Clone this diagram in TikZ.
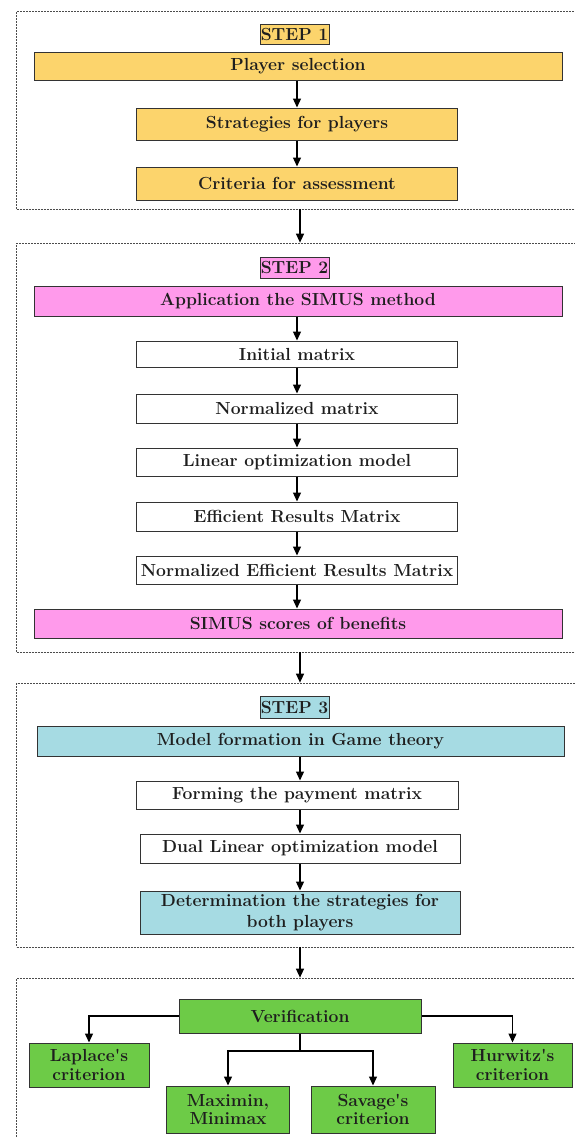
\documentclass[tikz,border=0pt]{standalone}
\usetikzlibrary{arrows.meta,calc}
\definecolor{cyel}{HTML}{FCD46C}
\definecolor{cpink}{HTML}{FF9AEB}
\definecolor{cblue}{HTML}{A6DBE3}
\definecolor{cgreen}{HTML}{6DCB47}
\definecolor{cline}{HTML}{333333}
\definecolor{ctext}{HTML}{1E1E1E}
\begin{document}
\begin{tikzpicture}[x=1pt,y=-1pt,
  box/.style={draw=cline,line width=1pt,rectangle,inner sep=0pt,align=center,
    font=\fontsize{17.5}{20}\selectfont\bfseries,text=ctext},
  two/.style={font=\fontsize{17.5}{18.5}\selectfont\bfseries},
  arr/.style={-{Triangle[length=9pt,width=8pt]},line width=1.3pt,black},
  ln/.style={line width=1.3pt,black},
  stepbound/.style={draw=black!70,line width=0.7pt,dash pattern=on 2pt off 1pt,rectangle,inner sep=0pt}]
\useasboundingbox (0,0) rectangle (574,1138);
% dashed group boxes
\node[stepbound,minimum width=583.5pt,minimum height=197.3pt] (b1) at (308.25,110.35) {};
\node[stepbound,minimum width=583.5pt,minimum height=409pt] (b2) at (308.25,447.5) {};
\node[stepbound,minimum width=583.5pt,minimum height=264pt] (b3) at (308.25,815) {};
\node[stepbound,minimum width=583.5pt,minimum height=200pt] (b4) at (308.25,1078) {};
% step 1
\node[box,fill=cyel,minimum width=69pt,minimum height=20pt] (s1) at (294.5,34) {STEP 1};
\node[box,fill=cyel,minimum width=528pt,minimum height=28pt] (ps) at (298,66) {Player selection};
\node[box,fill=cyel,minimum width=321pt,minimum height=32pt] (st) at (297,124) {Strategies for players};
\node[box,fill=cyel,minimum width=321pt,minimum height=33pt] (cr) at (297,183.5) {Criteria for assessment};
% step 2
\node[box,fill=cpink,minimum width=69pt,minimum height=21pt] (s2) at (294.5,267.5) {STEP 2};
\node[box,fill=cpink,minimum width=528pt,minimum height=30pt] (ap) at (298,301) {Application the SIMUS method};
\node[box,fill=white,minimum width=321pt,minimum height=26pt] (im) at (297,354) {Initial matrix};
\node[box,fill=white,minimum width=321pt,minimum height=29pt] (nm) at (297,408.5) {Normalized matrix};
\node[box,fill=white,minimum width=321pt,minimum height=28pt] (lo) at (297,462) {Linear optimization model};
\node[box,fill=white,minimum width=321pt,minimum height=29pt] (er) at (297,516.5) {Efficient Results Matrix};
\node[box,fill=white,minimum width=321pt,minimum height=28pt] (ne) at (297,570) {Normalized Efficient Results Matrix};
\node[box,fill=cpink,minimum width=528pt,minimum height=29pt] (sc) at (298,623.5) {SIMUS scores of benefits};
% step 3
\node[box,fill=cblue,minimum width=69pt,minimum height=22pt] (s3) at (294.5,707) {STEP 3};
\node[box,fill=cblue,minimum width=527pt,minimum height=30pt] (mf) at (300.5,741) {Model formation in Game theory};
\node[box,fill=white,minimum width=322pt,minimum height=28pt] (fp) at (297,795) {Forming the payment matrix};
\node[box,fill=white,minimum width=320pt,minimum height=29pt] (dl) at (300,848.5) {Dual Linear optimization model};
\node[box,fill=cblue,minimum width=320pt,minimum height=43pt,font=\fontsize{17.5}{21}\selectfont\bfseries] (dt) at (300,912.5) {Determination the strategies for\\both players};
% step 4
\node[box,fill=cgreen,minimum width=242pt,minimum height=34pt] (vf) at (300,1016) {Verification};
\node[box,two,fill=cgreen,minimum width=120pt,minimum height=44pt] (lp) at (89,1065) {Laplace\textquotesingle s\\criterion};
\node[box,two,fill=cgreen,minimum width=119pt,minimum height=44pt] (hw) at (512.5,1065) {Hurwitz\textquotesingle s\\criterion};
\node[box,two,fill=cgreen,minimum width=123pt,minimum height=47pt] (mm) at (228,1109.5) {Maximin,\\Minimax};
\node[box,two,fill=cgreen,minimum width=124pt,minimum height=47pt] (sv) at (373,1109.5) {Savage\textquotesingle s\\criterion};
% arrows step 1
\draw[arr] (ps.south -| st) -- (st.north);
\draw[arr] (st.south) -- (cr.north);
\draw[arr] (b1.south -| vf) -- (b2.north -| vf);
% arrows step 2
\draw[arr] (ap.south -| im) -- (im.north);
\draw[arr] (im.south) -- (nm.north);
\draw[arr] (nm.south) -- (lo.north);
\draw[arr] (lo.south) -- (er.north);
\draw[arr] (er.south) -- (ne.north);
\draw[arr] (ne.south) -- (ne.south |- sc.north);
\draw[arr] (b2.south -| vf) -- (b3.north -| vf);
% arrows step 3
\draw[arr] (mf.south -| dl) -- (dl.north |- fp.north);
\draw[arr] (fp.south -| dl) -- (dl.north);
\draw[arr] (dl.south) -- (dt.north);
\draw[arr] (b3.south -| vf) -- (b4.north -| vf);
% verification
\coordinate (j) at (300,1051);
\draw[arr] (vf.west) -| (lp.north);
\draw[arr] (vf.east) -| (hw.north);
\draw[ln] (vf.south) -- (j);
\draw[arr] (j) -| (mm.north);
\draw[arr] (j) -| (sv.north);
\end{tikzpicture}
\end{document}
